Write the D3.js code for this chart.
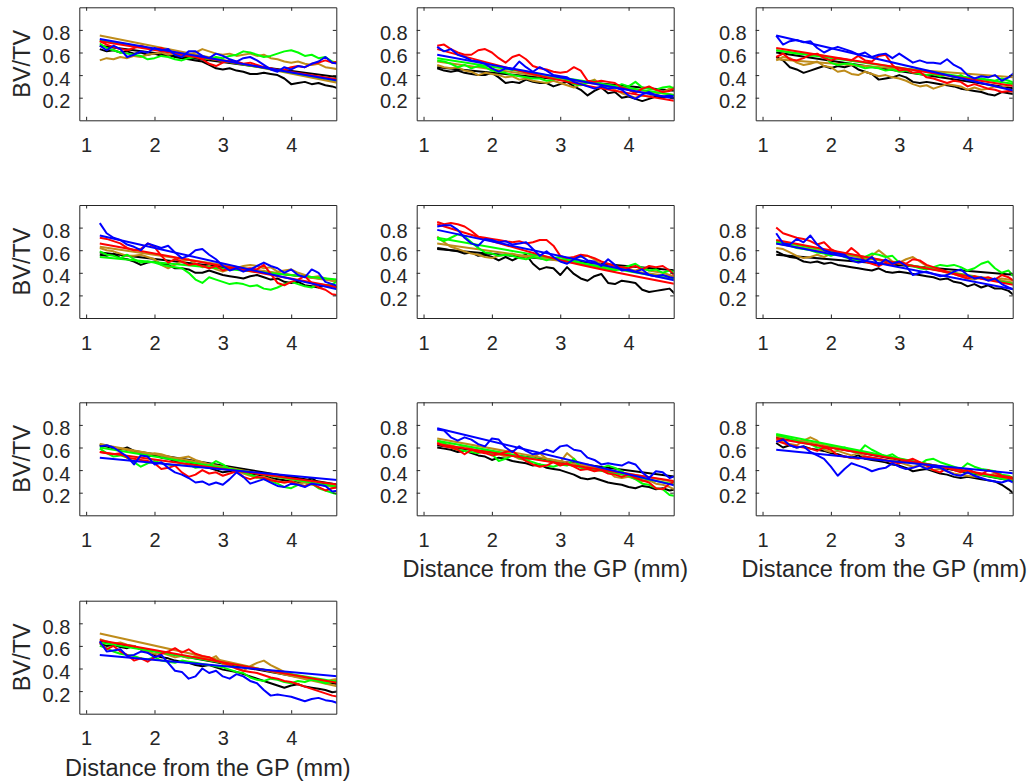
<!DOCTYPE html>
<html>
<head>
<meta charset="utf-8">
<script src="https://cdn.jsdelivr.net/npm/d3@7"></script>
<style>
  html, body { margin: 0; padding: 0; background: #ffffff; }
  svg { display: block; }
  text { font-family: "Liberation Sans", Arial, Helvetica, sans-serif; fill: #262626; }
</style>
</head>
<body>
<svg id="chart" width="1031" height="782"></svg>
<script>
// Sampling positions along the growth-plate distance (mm)
const distance = [1.2,1.3,1.4,1.5,1.6,1.7,1.8,1.9,2.0,2.1,2.2,2.3,2.4,2.5,2.6,2.7,2.8,2.9,3.0,3.1,3.2,3.3,3.4,3.5,3.6,3.7,3.8,3.9,4.0,4.1,4.2,4.3,4.4,4.5,4.6,4.7];
const xTicks = [1, 2, 3, 4];
const yTicks = [0.2, 0.4, 0.6, 0.8];
const seriesColors = ["#000000", "#BF8C1A", "#00FF00", "#FF0000", "#0000FF"]; // black, olive, green, red, blue
const yLabel = "BV/TV";
const xLabel = "Distance from the GP (mm)";

// Panel 1
const p1Black = [0.63,0.61,0.62,0.60,0.61,0.59,0.60,0.58,0.59,0.57,0.58,0.56,0.55,0.54,0.53,0.52,0.49,0.46,0.45,0.46,0.44,0.43,0.41,0.41,0.42,0.41,0.40,0.37,0.32,0.33,0.34,0.32,0.33,0.31,0.30,0.28];
const p1Olive = [0.53,0.55,0.54,0.56,0.55,0.57,0.56,0.58,0.59,0.60,0.58,0.59,0.57,0.58,0.60,0.63,0.61,0.59,0.58,0.59,0.57,0.58,0.59,0.57,0.58,0.55,0.54,0.52,0.51,0.52,0.50,0.49,0.50,0.47,0.46,0.45];
const p1Green = [0.68,0.64,0.62,0.60,0.59,0.58,0.57,0.54,0.55,0.57,0.56,0.54,0.53,0.55,0.56,0.55,0.54,0.56,0.55,0.57,0.58,0.61,0.60,0.58,0.56,0.57,0.59,0.61,0.62,0.60,0.57,0.58,0.55,0.56,0.52,0.50];
const p1Red   = [0.70,0.67,0.65,0.63,0.62,0.64,0.66,0.64,0.63,0.64,0.61,0.60,0.58,0.57,0.56,0.54,0.50,0.48,0.51,0.53,0.52,0.50,0.51,0.49,0.47,0.46,0.44,0.45,0.47,0.48,0.47,0.50,0.51,0.53,0.51,0.52];
const p1Blue  = [0.66,0.62,0.66,0.63,0.56,0.58,0.61,0.60,0.64,0.62,0.63,0.58,0.56,0.61,0.61,0.57,0.55,0.59,0.57,0.54,0.52,0.55,0.56,0.53,0.49,0.45,0.43,0.47,0.45,0.48,0.47,0.50,0.52,0.56,0.51,0.50];
const p1Fit   = [[0.66,0.38],[0.75,0.33],[0.71,0.35],[0.70,0.36],[0.72,0.35]];

// Panel 2
const p2Black = [0.46,0.44,0.43,0.44,0.42,0.41,0.40,0.40,0.42,0.38,0.33,0.34,0.33,0.36,0.34,0.33,0.33,0.30,0.32,0.34,0.30,0.27,0.22,0.26,0.29,0.24,0.25,0.20,0.21,0.19,0.17,0.19,0.21,0.20,0.21,0.19];
const p2Olive = [0.49,0.47,0.46,0.47,0.44,0.43,0.40,0.42,0.41,0.40,0.38,0.39,0.36,0.37,0.35,0.34,0.33,0.35,0.33,0.31,0.29,0.32,0.34,0.36,0.31,0.30,0.27,0.24,0.22,0.20,0.22,0.21,0.23,0.25,0.28,0.30];
const p2Green = [0.53,0.52,0.50,0.47,0.49,0.46,0.48,0.47,0.44,0.43,0.42,0.40,0.39,0.38,0.37,0.37,0.35,0.36,0.38,0.36,0.32,0.31,0.33,0.35,0.31,0.30,0.29,0.32,0.30,0.34,0.29,0.28,0.27,0.29,0.30,0.27];
const p2Red   = [0.66,0.67,0.63,0.60,0.58,0.58,0.62,0.63,0.60,0.55,0.51,0.56,0.58,0.54,0.48,0.46,0.45,0.43,0.42,0.43,0.47,0.44,0.35,0.34,0.35,0.34,0.33,0.29,0.27,0.24,0.28,0.30,0.27,0.25,0.26,0.29];
const p2Blue  = [0.65,0.61,0.63,0.58,0.56,0.53,0.52,0.50,0.46,0.43,0.46,0.45,0.52,0.47,0.43,0.47,0.44,0.40,0.39,0.38,0.34,0.32,0.30,0.28,0.30,0.28,0.29,0.27,0.22,0.19,0.23,0.25,0.22,0.21,0.22,0.21];
const p2Fit   = [[0.47,0.26],[0.52,0.22],[0.55,0.22],[0.63,0.36,0.17],[0.58,0.19]];

// Panel 3
const p3Black = [0.56,0.53,0.47,0.45,0.42,0.44,0.46,0.48,0.46,0.48,0.47,0.49,0.45,0.43,0.41,0.36,0.37,0.38,0.40,0.38,0.34,0.33,0.34,0.33,0.32,0.31,0.30,0.28,0.27,0.26,0.25,0.23,0.22,0.25,0.24,0.23];
const p3Olive = [0.53,0.56,0.55,0.51,0.49,0.50,0.52,0.48,0.47,0.43,0.44,0.41,0.40,0.43,0.41,0.39,0.40,0.38,0.37,0.35,0.32,0.30,0.31,0.28,0.30,0.32,0.31,0.30,0.27,0.29,0.27,0.28,0.30,0.29,0.31,0.33];
const p3Green = [0.62,0.61,0.60,0.59,0.59,0.57,0.58,0.57,0.51,0.49,0.50,0.50,0.48,0.46,0.47,0.46,0.44,0.45,0.43,0.44,0.42,0.41,0.40,0.41,0.39,0.40,0.38,0.40,0.36,0.35,0.37,0.36,0.35,0.37,0.35,0.33];
const p3Red   = [0.56,0.59,0.54,0.53,0.55,0.58,0.59,0.55,0.53,0.55,0.54,0.53,0.57,0.53,0.52,0.57,0.58,0.49,0.44,0.45,0.42,0.43,0.38,0.37,0.35,0.33,0.35,0.34,0.30,0.32,0.30,0.28,0.27,0.25,0.26,0.25];
const p3Blue  = [0.75,0.67,0.70,0.71,0.69,0.70,0.64,0.60,0.63,0.65,0.63,0.61,0.58,0.60,0.56,0.58,0.59,0.55,0.59,0.55,0.51,0.53,0.51,0.51,0.50,0.54,0.49,0.46,0.40,0.37,0.39,0.38,0.40,0.35,0.38,0.43];
const p3Fit   = [[0.60,0.28],[0.54,0.38],[0.62,0.32],[0.64,0.30],[0.75,0.26]];

// Panel 4
const p4Black = [0.56,0.55,0.57,0.53,0.52,0.50,0.47,0.49,0.50,0.48,0.47,0.44,0.44,0.43,0.40,0.40,0.42,0.40,0.38,0.37,0.36,0.35,0.37,0.38,0.36,0.34,0.35,0.32,0.31,0.32,0.29,0.28,0.27,0.29,0.28,0.27];
const p4Olive = [0.62,0.60,0.59,0.57,0.55,0.55,0.56,0.54,0.52,0.47,0.44,0.47,0.50,0.52,0.48,0.45,0.46,0.43,0.41,0.43,0.44,0.46,0.47,0.46,0.44,0.45,0.41,0.42,0.43,0.40,0.38,0.36,0.37,0.35,0.33,0.32];
const p4Green = [0.59,0.56,0.55,0.53,0.56,0.52,0.49,0.50,0.49,0.47,0.46,0.45,0.44,0.40,0.34,0.31,0.36,0.34,0.32,0.30,0.31,0.30,0.28,0.29,0.26,0.25,0.27,0.30,0.32,0.30,0.28,0.27,0.30,0.29,0.30,0.33];
const p4Red   = [0.71,0.70,0.68,0.66,0.62,0.60,0.61,0.66,0.63,0.55,0.49,0.52,0.50,0.47,0.48,0.46,0.44,0.46,0.42,0.44,0.45,0.43,0.44,0.43,0.47,0.39,0.31,0.29,0.32,0.34,0.37,0.31,0.27,0.25,0.21,0.20];
const p4Blue  = [0.84,0.75,0.71,0.69,0.65,0.63,0.60,0.66,0.64,0.62,0.64,0.58,0.53,0.55,0.60,0.61,0.56,0.52,0.46,0.42,0.44,0.41,0.43,0.46,0.49,0.46,0.44,0.40,0.43,0.38,0.36,0.43,0.40,0.32,0.30,0.28];
const p4Fit   = [[0.58,0.33],[0.63,0.32],[0.54,0.34],[0.66,0.27],[0.73,0.25]];

// Panel 5
const p5Black = [0.62,0.61,0.60,0.59,0.57,0.58,0.55,0.56,0.54,0.51,0.54,0.51,0.54,0.56,0.48,0.43,0.45,0.44,0.38,0.45,0.39,0.35,0.33,0.37,0.39,0.31,0.30,0.33,0.32,0.31,0.25,0.23,0.24,0.25,0.26,0.20];
const p5Olive = [0.72,0.67,0.63,0.61,0.59,0.57,0.56,0.54,0.53,0.55,0.56,0.57,0.55,0.54,0.56,0.55,0.53,0.52,0.51,0.50,0.53,0.54,0.55,0.52,0.47,0.46,0.45,0.44,0.43,0.42,0.44,0.42,0.41,0.40,0.38,0.36];
const p5Green = [0.70,0.68,0.71,0.74,0.72,0.67,0.62,0.58,0.57,0.55,0.56,0.55,0.53,0.52,0.54,0.53,0.51,0.53,0.54,0.52,0.51,0.49,0.47,0.46,0.44,0.43,0.42,0.44,0.46,0.48,0.44,0.42,0.43,0.40,0.42,0.40];
const p5Red   = [0.85,0.83,0.84,0.83,0.81,0.77,0.72,0.71,0.70,0.69,0.68,0.67,0.68,0.66,0.67,0.69,0.69,0.64,0.55,0.53,0.54,0.56,0.55,0.53,0.50,0.48,0.46,0.45,0.44,0.46,0.43,0.46,0.45,0.46,0.42,0.36];
const p5Blue  = [0.81,0.82,0.82,0.78,0.71,0.66,0.64,0.70,0.69,0.67,0.68,0.65,0.66,0.67,0.61,0.55,0.59,0.54,0.50,0.48,0.52,0.55,0.51,0.50,0.46,0.52,0.47,0.42,0.43,0.41,0.43,0.38,0.37,0.38,0.36,0.35];
const p5Fit   = [[0.61,0.42],[0.66,0.36],[0.71,0.34],[0.83,0.52,0.30],[0.78,0.33]];

// Panel 6
const p6Black = [0.59,0.56,0.54,0.53,0.50,0.49,0.50,0.48,0.49,0.47,0.46,0.45,0.44,0.43,0.42,0.44,0.41,0.40,0.41,0.40,0.39,0.38,0.37,0.36,0.34,0.35,0.32,0.31,0.28,0.30,0.27,0.29,0.26,0.26,0.24,0.19];
const p6Olive = [0.62,0.61,0.58,0.55,0.53,0.54,0.56,0.54,0.57,0.56,0.55,0.52,0.53,0.51,0.55,0.60,0.55,0.50,0.49,0.52,0.54,0.50,0.46,0.44,0.42,0.40,0.39,0.37,0.35,0.34,0.36,0.35,0.33,0.35,0.34,0.33];
const p6Green = [0.67,0.65,0.64,0.62,0.61,0.60,0.58,0.57,0.55,0.57,0.54,0.52,0.51,0.54,0.57,0.56,0.54,0.55,0.49,0.47,0.46,0.44,0.43,0.45,0.47,0.46,0.47,0.45,0.42,0.44,0.48,0.50,0.44,0.40,0.42,0.35];
const p6Red   = [0.80,0.75,0.73,0.71,0.70,0.68,0.65,0.67,0.61,0.58,0.56,0.62,0.57,0.50,0.48,0.46,0.49,0.47,0.50,0.48,0.52,0.51,0.47,0.45,0.43,0.41,0.39,0.37,0.35,0.37,0.35,0.36,0.34,0.38,0.36,0.32];
const p6Blue  = [0.75,0.66,0.65,0.70,0.67,0.73,0.65,0.60,0.58,0.57,0.56,0.51,0.49,0.50,0.54,0.47,0.52,0.48,0.50,0.46,0.38,0.40,0.41,0.39,0.37,0.38,0.41,0.43,0.38,0.35,0.36,0.33,0.35,0.30,0.27,0.25];
const p6Fit   = [[0.56,0.38],[0.66,0.31],[0.68,0.30],[0.69,0.29],[0.66,0.25]];

// Panel 7
const p7Black = [0.62,0.61,0.59,0.58,0.60,0.57,0.55,0.52,0.53,0.51,0.50,0.48,0.49,0.47,0.45,0.43,0.42,0.40,0.38,0.39,0.40,0.41,0.37,0.36,0.35,0.33,0.32,0.31,0.30,0.29,0.30,0.33,0.29,0.27,0.26,0.25];
const p7Olive = [0.63,0.62,0.60,0.59,0.58,0.56,0.55,0.54,0.55,0.54,0.52,0.50,0.51,0.52,0.49,0.47,0.45,0.43,0.42,0.41,0.40,0.37,0.35,0.33,0.34,0.32,0.30,0.29,0.30,0.28,0.29,0.27,0.28,0.26,0.27,0.26];
const p7Green = [0.59,0.55,0.52,0.53,0.51,0.47,0.43,0.46,0.48,0.46,0.45,0.44,0.46,0.45,0.42,0.43,0.44,0.48,0.45,0.41,0.40,0.38,0.36,0.34,0.32,0.30,0.28,0.25,0.24,0.27,0.26,0.28,0.24,0.22,0.20,0.18];
const p7Red   = [0.56,0.55,0.54,0.55,0.51,0.50,0.49,0.48,0.46,0.41,0.42,0.44,0.38,0.34,0.36,0.40,0.37,0.38,0.35,0.37,0.39,0.34,0.32,0.34,0.33,0.31,0.30,0.29,0.30,0.27,0.26,0.28,0.25,0.22,0.24,0.25];
const p7Blue  = [0.61,0.62,0.60,0.56,0.52,0.45,0.53,0.52,0.45,0.47,0.42,0.38,0.36,0.33,0.29,0.30,0.27,0.29,0.27,0.32,0.38,0.34,0.28,0.30,0.32,0.29,0.26,0.25,0.28,0.27,0.25,0.28,0.27,0.26,0.21,0.22];
const p7Fit   = [[0.62,0.27],[0.63,0.24],[0.60,0.25],[0.56,0.27],[0.51,0.31]];

// Panel 8
const p8Black = [0.60,0.59,0.58,0.56,0.57,0.55,0.53,0.52,0.49,0.51,0.50,0.48,0.47,0.46,0.44,0.45,0.42,0.41,0.40,0.38,0.36,0.33,0.32,0.33,0.31,0.29,0.28,0.27,0.25,0.24,0.26,0.25,0.23,0.24,0.22,0.23];
const p8Olive = [0.65,0.63,0.62,0.60,0.61,0.59,0.57,0.56,0.55,0.54,0.52,0.53,0.50,0.49,0.51,0.55,0.50,0.49,0.47,0.55,0.50,0.44,0.45,0.43,0.40,0.39,0.34,0.33,0.34,0.32,0.30,0.31,0.28,0.27,0.25,0.22];
const p8Green = [0.66,0.64,0.60,0.58,0.57,0.56,0.55,0.57,0.54,0.48,0.50,0.53,0.51,0.49,0.47,0.45,0.44,0.43,0.45,0.44,0.50,0.42,0.41,0.40,0.42,0.44,0.42,0.39,0.35,0.32,0.28,0.27,0.24,0.23,0.18,0.17];
const p8Red   = [0.64,0.61,0.60,0.58,0.54,0.58,0.56,0.55,0.53,0.54,0.56,0.57,0.52,0.48,0.45,0.43,0.44,0.47,0.44,0.46,0.43,0.40,0.41,0.39,0.40,0.37,0.36,0.34,0.36,0.33,0.31,0.29,0.24,0.23,0.28,0.30];
const p8Blue  = [0.76,0.75,0.69,0.66,0.69,0.67,0.63,0.61,0.68,0.67,0.60,0.56,0.61,0.57,0.54,0.55,0.58,0.56,0.61,0.62,0.58,0.57,0.51,0.49,0.45,0.46,0.45,0.44,0.47,0.45,0.38,0.33,0.39,0.38,0.33,0.35];
const p8Fit   = [[0.62,0.34],[0.68,0.29],[0.66,0.27],[0.63,0.30],[0.77,0.26]];

// Panel 9
const p9Black = [0.64,0.60,0.62,0.60,0.61,0.59,0.58,0.57,0.55,0.54,0.52,0.51,0.53,0.50,0.49,0.48,0.47,0.45,0.44,0.42,0.39,0.40,0.41,0.39,0.37,0.36,0.34,0.33,0.34,0.33,0.32,0.31,0.30,0.27,0.23,0.18];
const p9Olive = [0.68,0.65,0.63,0.62,0.66,0.69,0.66,0.58,0.56,0.57,0.55,0.53,0.55,0.52,0.51,0.50,0.48,0.49,0.47,0.45,0.43,0.44,0.42,0.40,0.41,0.39,0.37,0.36,0.35,0.34,0.36,0.35,0.37,0.34,0.33,0.32];
const p9Green = [0.71,0.70,0.68,0.66,0.64,0.63,0.60,0.59,0.61,0.58,0.60,0.57,0.55,0.62,0.58,0.55,0.52,0.54,0.50,0.48,0.47,0.45,0.49,0.50,0.47,0.45,0.43,0.41,0.46,0.43,0.41,0.40,0.39,0.36,0.35,0.32];
const p9Red   = [0.66,0.64,0.62,0.61,0.60,0.59,0.57,0.60,0.58,0.53,0.52,0.51,0.50,0.52,0.51,0.50,0.49,0.47,0.46,0.48,0.50,0.47,0.44,0.40,0.38,0.42,0.40,0.38,0.41,0.38,0.36,0.40,0.38,0.35,0.34,0.33];
const p9Blue  = [0.65,0.67,0.62,0.60,0.61,0.56,0.53,0.50,0.43,0.35,0.41,0.46,0.44,0.42,0.39,0.41,0.42,0.46,0.43,0.41,0.42,0.44,0.41,0.43,0.42,0.39,0.36,0.35,0.38,0.35,0.33,0.31,0.30,0.29,0.31,0.28];
const p9Fit   = [[0.69,0.30],[0.70,0.31],[0.72,0.30],[0.68,0.32],[0.58,0.37]];

// Panel 10
const p10Black = [0.62,0.60,0.61,0.59,0.58,0.60,0.57,0.54,0.52,0.50,0.49,0.47,0.46,0.45,0.43,0.42,0.43,0.41,0.39,0.38,0.37,0.35,0.33,0.31,0.29,0.27,0.25,0.23,0.25,0.26,0.24,0.23,0.22,0.21,0.19,0.20];
const p10Olive = [0.66,0.64,0.62,0.63,0.61,0.60,0.57,0.55,0.53,0.54,0.52,0.50,0.51,0.49,0.51,0.50,0.48,0.51,0.44,0.42,0.40,0.38,0.42,0.45,0.47,0.43,0.40,0.37,0.35,0.33,0.31,0.30,0.29,0.28,0.30,0.31];
const p10Green = [0.60,0.58,0.55,0.53,0.52,0.51,0.49,0.48,0.50,0.47,0.46,0.45,0.47,0.46,0.45,0.44,0.43,0.42,0.41,0.39,0.37,0.36,0.32,0.30,0.29,0.31,0.30,0.28,0.27,0.29,0.28,0.30,0.29,0.27,0.28,0.30];
const p10Red   = [0.63,0.57,0.60,0.55,0.52,0.47,0.49,0.46,0.50,0.53,0.55,0.58,0.54,0.57,0.53,0.51,0.50,0.47,0.45,0.43,0.40,0.38,0.37,0.36,0.34,0.32,0.31,0.29,0.28,0.26,0.24,0.22,0.20,0.18,0.16,0.15];
const p10Blue  = [0.64,0.55,0.56,0.57,0.51,0.52,0.55,0.54,0.50,0.52,0.45,0.38,0.37,0.31,0.33,0.40,0.36,0.38,0.33,0.31,0.35,0.33,0.29,0.27,0.21,0.16,0.17,0.16,0.15,0.13,0.11,0.13,0.14,0.12,0.11,0.09];
const p10Fit   = [[0.64,0.26],[0.71,0.24],[0.63,0.28],[0.65,0.27],[0.52,0.33]];

// Panels in reading order; traces listed black, olive, green, red, blue
const panels = [
  { traces: [p1Black, p1Olive, p1Green, p1Red, p1Blue], fits: p1Fit },
  { traces: [p2Black, p2Olive, p2Green, p2Red, p2Blue], fits: p2Fit },
  { traces: [p3Black, p3Olive, p3Green, p3Red, p3Blue], fits: p3Fit },
  { traces: [p4Black, p4Olive, p4Green, p4Red, p4Blue], fits: p4Fit },
  { traces: [p5Black, p5Olive, p5Green, p5Red, p5Blue], fits: p5Fit },
  { traces: [p6Black, p6Olive, p6Green, p6Red, p6Blue], fits: p6Fit },
  { traces: [p7Black, p7Olive, p7Green, p7Red, p7Blue], fits: p7Fit },
  { traces: [p8Black, p8Olive, p8Green, p8Red, p8Blue], fits: p8Fit },
  { traces: [p9Black, p9Olive, p9Green, p9Red, p9Blue], fits: p9Fit },
  { traces: [p10Black, p10Olive, p10Green, p10Red, p10Blue], fits: p10Fit }
];

// Grid layout (4 rows x 3 columns of axes)
const colLeft = [79.3, 416.7, 755.7];
const rowTop = [7.3, 205, 402.3, 600.7];
const axW = 257, axH = 113;
const xDomain = [0.9, 4.66];
const yDomain = [0, 1];
const axisColor = "#262626";
const tickFont = 20, labelFont = 23.5, tickLen = 3.5;

const svg = d3.select("#chart");
const defs = svg.append("defs");

panels.forEach((panel, i) => {
  const row = Math.floor(i / 3), col = i % 3;
  const left = colLeft[col], top = rowTop[row];
  const x = d3.scaleLinear().domain(xDomain).range([0, axW]);
  const y = d3.scaleLinear().domain(yDomain).range([axH, 0]);

  const g = svg.append("g").attr("transform", `translate(${left},${top})`);
  const clipId = `clip${i}`;
  defs.append("clipPath").attr("id", clipId)
    .append("rect").attr("x", 0).attr("y", 0).attr("width", axW).attr("height", axH);

  // Series: each measured trace followed by its fitted trend
  const plot = g.append("g").attr("clip-path", `url(#${clipId})`);
  const traceLine = d3.line().x((d, k) => x(distance[k])).y(d => y(d));
  panel.traces.forEach((vals, s) => {
    plot.append("path").datum(vals)
      .attr("d", traceLine)
      .attr("fill", "none")
      .attr("stroke", seriesColors[s])
      .attr("stroke-width", 2)
      .attr("stroke-linejoin", "round");
    const fit = panel.fits[s];
    const fx = fit.length === 3 ? [distance[0], (distance[0] + distance[distance.length - 1]) / 2, distance[distance.length - 1]]
                                : [distance[0], distance[distance.length - 1]];
    const fitLine = d3.line().x((d, k) => x(fx[k])).y(d => y(d)).curve(d3.curveNatural);
    plot.append("path").datum(fit)
      .attr("d", fitLine)
      .attr("fill", "none")
      .attr("stroke", seriesColors[s])
      .attr("stroke-width", 2);
  });

  // Box with inward ticks on all four sides
  const xAxisB = d3.axisBottom(x).tickValues(xTicks).tickSizeInner(-tickLen).tickSizeOuter(0).tickFormat(d3.format("d")).tickPadding(17.5);
  const xAxisT = d3.axisTop(x).tickValues(xTicks).tickSizeInner(-tickLen).tickSizeOuter(0).tickFormat("");
  const yAxisL = d3.axisLeft(y).tickValues(yTicks).tickSizeInner(-tickLen).tickSizeOuter(0).tickFormat(d3.format(".1f")).tickPadding(9);
  const yAxisR = d3.axisRight(y).tickValues(yTicks).tickSizeInner(-tickLen).tickSizeOuter(0).tickFormat("");

  const styleAxis = sel => {
    sel.selectAll("path.domain").attr("stroke", axisColor).attr("stroke-width", 1);
    sel.selectAll(".tick line").attr("stroke", axisColor).attr("stroke-width", 1);
    sel.selectAll(".tick text").attr("fill", axisColor).style("font-size", tickFont + "px")
      .style("font-family", '"Liberation Sans", Arial, sans-serif');
  };
  g.append("g").attr("transform", `translate(0,${axH})`).call(xAxisB).call(styleAxis);
  g.append("g").call(xAxisT).call(styleAxis);
  g.append("g").call(yAxisL).call(styleAxis).selectAll(".tick text").attr("dy", "0.5em");
  g.append("g").attr("transform", `translate(${axW},0)`).call(yAxisR).call(styleAxis);

  if (col === 0) {
    g.append("text")
      .attr("transform", `translate(${30 - left},${axH / 2}) rotate(-90)`)
      .attr("text-anchor", "middle")
      .style("font-size", labelFont + "px")
      .text(yLabel);
  }
  if (row === 3 || (row === 2 && col > 0)) {
    g.append("text")
      .attr("x", axW / 2)
      .attr("y", axH + 62)
      .attr("text-anchor", "middle")
      .style("font-size", labelFont + "px")
      .text(xLabel);
  }
});
</script>
</body>
</html>
